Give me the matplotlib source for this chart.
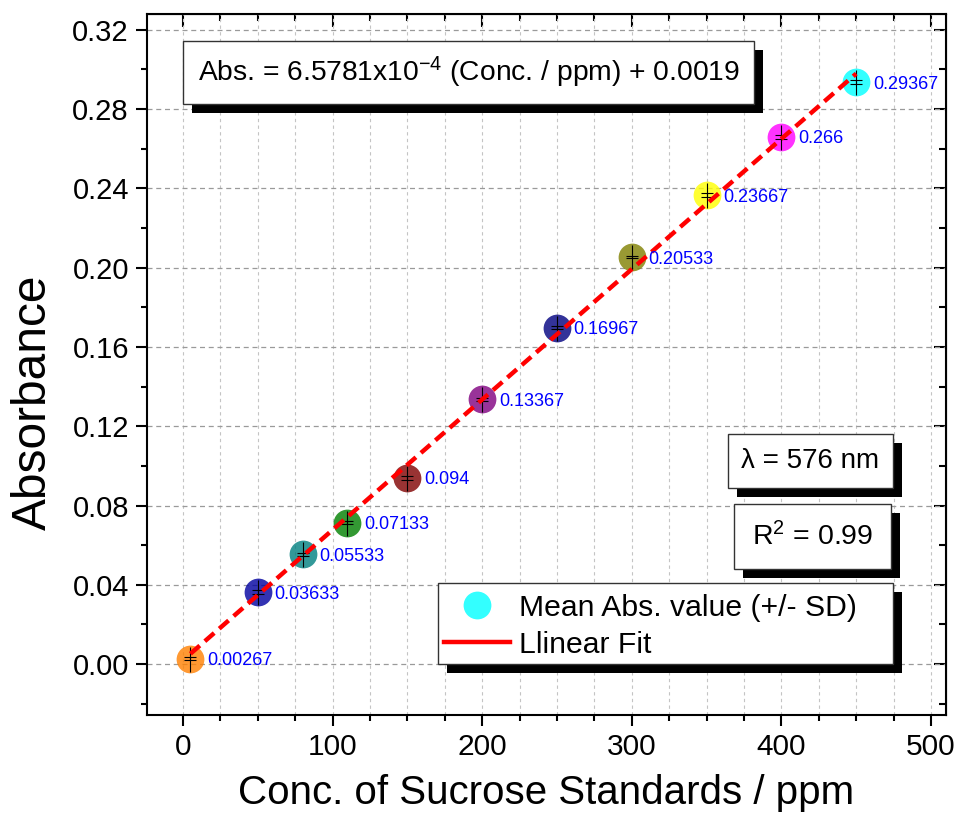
import numpy as np
import matplotlib
matplotlib.use("Agg")
import matplotlib.pyplot as plt
import matplotlib.patheffects as pe
from matplotlib.lines import Line2D
from matplotlib.patches import Rectangle
from matplotlib.ticker import MultipleLocator, NullFormatter

plt.rcParams['font.family'] = ['Liberation Sans', 'DejaVu Sans']
plt.rcParams['mathtext.fontset'] = 'custom'
plt.rcParams['mathtext.rm'] = 'Liberation Sans'
plt.rcParams['mathtext.it'] = 'Liberation Sans:italic'
plt.rcParams['mathtext.default'] = 'regular'

# sucrose standards (ppm) and mean absorbance
conc = [5, 50, 80, 110, 150, 200, 250, 300, 350, 400, 450]
absorbance = [0.00267, 0.03633, 0.05533, 0.07133, 0.094, 0.13367,
              0.16967, 0.20533, 0.23667, 0.266, 0.29367]
sd = [0.0008, 0.0008, 0.0007, 0.0008, 0.0009, 0.0008,
      0.0008, 0.0006, 0.0008, 0.0009, 0.0008]
point_colors = ['#FF8000', '#0000A0', '#008080', '#008000', '#800000', '#800080',
                '#000080', '#808000', '#FFFF00', '#FF00FF', '#00FFFF']
labels = ['0.00267', '0.03633', '0.05533', '0.07133', '0.094', '0.13367',
          '0.16967', '0.20533', '0.23667', '0.266', '0.29367']

slope = 6.5781e-4
intercept = 0.0019

x_ticks = [0, 100, 200, 300, 400, 500]
y_ticks = [0.00, 0.04, 0.08, 0.12, 0.16, 0.20, 0.24, 0.28, 0.32]

fig = plt.figure(figsize=(9.59, 8.19), dpi=100)
ax = fig.add_axes([0.1533, 0.127, 0.8331, 0.8559])
ax.set_xlim(-24, 510)
ax.set_ylim(-0.0257, 0.328)

# grid
ax.set_axisbelow(True)
ax.xaxis.set_minor_locator(MultipleLocator(25))
ax.yaxis.set_minor_locator(MultipleLocator(0.02))
ax.grid(which='both', axis='x', ls=(0, (3, 3)), color='#c4c4c4', lw=0.8)
ax.grid(which='major', axis='y', ls=(0, (4, 3)), color='#9a9a9a', lw=0.9)

# points
for xi, yi, c in zip(conc, absorbance, point_colors):
    ax.plot(xi, yi, 'o', ms=20, mfc=c, mec='none', alpha=0.8, zorder=3)

# error bars
ax.errorbar(conc, absorbance, yerr=sd, fmt='none', ecolor='black',
            elinewidth=0.8, capsize=4.5, capthick=0.8, zorder=4)
ax.plot(conc, absorbance, ls='none', marker='|', ms=18, mec='black',
        mew=0.8, zorder=4)

# linear fit
xf = np.array([conc[0], conc[-1]])
ax.plot(xf, slope * xf + intercept, color='red', lw=3.2,
        ls=(0, (2.8, 1.5)), zorder=5)

# value labels
for xi, yi, t in zip(conc, absorbance, labels):
    ax.annotate(t, (xi, yi), xytext=(12, -1.5), textcoords='offset points',
                ha='left', va='center', color='#0000FF', fontsize=13, zorder=6)

# axes styling
ax.set_xticks(x_ticks)
ax.set_yticks(y_ticks)
ax.set_yticklabels([f'{v:.2f}' for v in y_ticks])
ax.tick_params(which='major', direction='out', length=8, width=1.5, labelsize=21, pad=5)
ax.tick_params(which='minor', direction='out', length=4.5, width=1.5)
ax.tick_params(axis='x', labelsize=21.5)
for s in ax.spines.values():
    s.set_linewidth(1.5)

top = ax.secondary_xaxis('top')
top.set_xticks(x_ticks)
top.xaxis.set_minor_locator(MultipleLocator(25))
top.xaxis.set_major_formatter(NullFormatter())
top.tick_params(which='major', direction='in', length=9, width=1.5)
top.tick_params(which='minor', direction='in', length=5, width=1.5)
right = ax.secondary_yaxis('right')
right.set_yticks(y_ticks)
right.yaxis.set_minor_locator(MultipleLocator(0.02))
right.yaxis.set_major_formatter(NullFormatter())
right.tick_params(which='major', direction='in', length=9, width=1.5)
right.tick_params(which='minor', direction='in', length=5, width=1.5)

ax.set_xlabel('Conc. of Sucrose Standards / ppm', fontsize=29, labelpad=9)
ax.set_ylabel('Absorbance', fontsize=34.5)
ax.yaxis.set_label_coords(-0.1135, 0.4465)

# text boxes with drop shadows
shadow = [pe.withSimplePatchShadow(offset=(6.5, -6.5), shadow_rgbFace='black', alpha=1.0)]
box_kw = dict(boxstyle='square,pad=0.5', fc='white', ec='#333333', lw=1.0)

eq = ax.text(0.4024, 0.9165, 'Abs. = 6.5781x10$^{-4}$ (Conc. / ppm) + 0.0019',
             transform=ax.transAxes, ha='center', va='center', fontsize=20.3,
             bbox=box_kw, zorder=7)
lam = ax.text(0.8304, 0.3623, 'λ = 576 nm', transform=ax.transAxes,
              ha='center', va='center', fontsize=20, bbox=box_kw, zorder=7)
r2 = ax.text(0.8330, 0.2546, 'R$^2$ = 0.99', transform=ax.transAxes,
             ha='center', va='center', fontsize=20.5,
             bbox=dict(boxstyle='square,pad=0.62', fc='white', ec='#333333', lw=1.0),
             zorder=7)
for t in (eq, lam, r2):
    t.get_bbox_patch().set_path_effects(shadow)

# legend: frame drawn as a separate shadowed rectangle
leg_box = Rectangle((0.3642, 0.0728), 0.5695, 0.1155, transform=ax.transAxes,
                    fc='white', ec='#333333', lw=1.0, zorder=6.5)
leg_box.set_path_effects(shadow)
ax.add_patch(leg_box)

handles = [Line2D([], [], ls='none', marker='o', ms=20, mfc='#00FFFF', mec='none', alpha=0.8),
           Line2D([], [], color='red', lw=3.2)]
leg = ax.legend(handles, ['Mean Abs. value (+/- SD)', 'Llinear Fit'],
                loc='upper left', bbox_to_anchor=(0.3579, 0.1883), borderaxespad=0,
                fontsize=21.7, frameon=False, handlelength=2.2, handletextpad=0.3,
                labelspacing=0.3, borderpad=0.35)
leg.set_zorder(7)

fig.savefig('out.png', dpi=100)
